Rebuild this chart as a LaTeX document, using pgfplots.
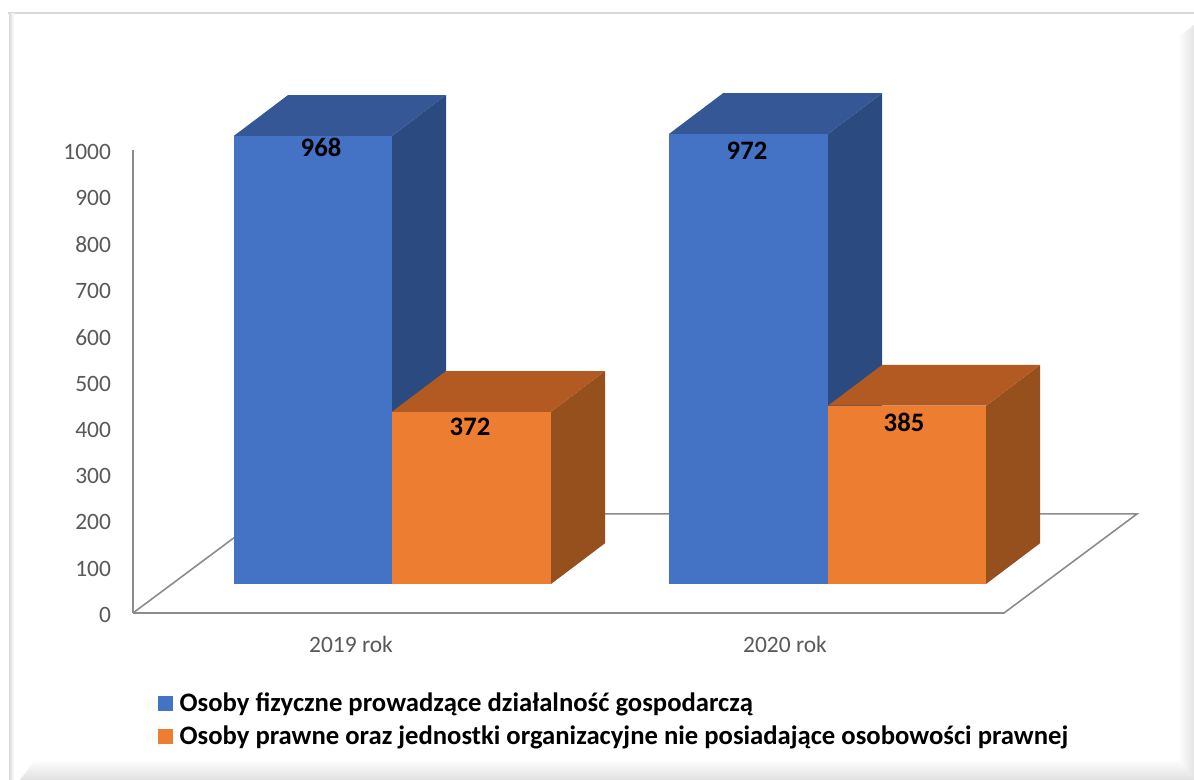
\documentclass[border=0pt]{standalone}
\usepackage{fontspec}
\setmainfont{Carlito}
\usepackage{pgfplots}
\pgfplotsset{compat=1.18}
\definecolor{blueF}{HTML}{4472C4}
\definecolor{blueS}{HTML}{2B4A80}
\definecolor{blueT}{HTML}{355795}
\definecolor{orF}{HTML}{ED7D31}
\definecolor{orS}{HTML}{95501D}
\definecolor{orT}{HTML}{B25A21}
\definecolor{txt}{HTML}{595959}
\definecolor{axl}{HTML}{8C8C8C}
\definecolor{fr}{HTML}{D9D9D9}
\begin{document}
\begin{tikzpicture}[x=.75pt,y=.75pt]
\fill[white] (0,0) rectangle (1194,780);
% frame
\fill[fr] (8,766) rectangle (1194,768);
\shade[left color=fr,right color=white] (9,0) rectangle (14,766);
\fill[white] (0,0) rectangle (9,766);
\shade[left color=white,right color=fr!70] (1178,0) -- (1194,0) -- (1194,755) -- (1178,743) -- cycle;
\shade[bottom color=fr!80,top color=white] (20,0) -- (1194,0) -- (1178,21) -- (36,21) -- cycle;
% axis, floor
\begin{axis}[at={(99.75pt,125.25pt)},anchor=south west,scale only axis,
  width=653.25pt,height=347.25pt,
  xmin=133,xmax=1004,ymin=0,ymax=1000,clip=false,
  axis line style={draw=axl,line width=1.5pt},
  axis x line*=bottom,axis y line*=left,
  axis line style={-},
  tick style={draw=none},
  xtick={351,785},xticklabels={2019 rok,2020 rok},
  ytick={0,100,...,1000},
  tick label style={font=\fontsize{17.6}{20}\selectfont,text=txt},
  yticklabel style={xshift=-13pt,yshift=-1.5pt},
  xticklabel style={yshift=-14pt},
  /pgf/number format/assume math mode=true,
  /pgf/number format/1000 sep={},
]
\addplot[draw=axl,line width=1.2pt] coordinates {(133,0)(1004,0)(1137,214)(266,214)(133,0)};
\end{axis}
% bars
\begin{axis}[at={(99.75pt,147pt)},anchor=south west,scale only axis,
  width=653.25pt,height=347.25pt,
  xmin=133,xmax=1004,ymin=0,ymax=1000,clip=false,
  axis lines=none,
  legend style={at={(axis cs:158,-229)},anchor=north west,draw=none,fill=none,
    font=\fontsize{20}{22}\bfseries\selectfont,
    row sep=5.5pt,inner sep=0pt,outer sep=0pt,
    cells={anchor=west},
    /tikz/every odd column/.append style={column sep=3pt},
    legend cell align=left},
  legend image code/.code={\fill[#1] (0,-5.6pt) rectangle (11.25pt,5.6pt);},
]
% 2019 blue
\addplot[forget plot,fill=blueS,draw=none] coordinates {(392,0)(446,88)(446,1056)(392,968)} -- cycle;
\addplot[forget plot,fill=blueT,draw=none] coordinates {(234,968)(392,968)(446,1056)(288,1056)} -- cycle;
\addplot[ybar,bar shift=0pt,bar width=118.5pt,fill=blueF,draw=none] coordinates {(313,968)};
% 2020 blue
\addplot[forget plot,fill=blueS,draw=none] coordinates {(828,0)(882,88)(882,1060)(828,972)} -- cycle;
\addplot[forget plot,fill=blueT,draw=none] coordinates {(669,972)(828,972)(882,1060)(723,1060)} -- cycle;
\addplot[forget plot,ybar,bar shift=0pt,bar width=119.25pt,fill=blueF,draw=none] coordinates {(748.5,972)};
% 2019 orange
\addplot[forget plot,fill=orS,draw=none] coordinates {(551,0)(605,88)(605,460)(551,372)} -- cycle;
\addplot[forget plot,fill=orT,draw=none] coordinates {(392,372)(551,372)(605,460)(446,460)} -- cycle;
\addplot[ybar,bar shift=0pt,bar width=119.25pt,fill=orF,draw=none] coordinates {(471.5,372)};
% 2020 orange
\addplot[forget plot,fill=orS,draw=none] coordinates {(986,0)(1040,88)(1040,473)(986,385)} -- cycle;
\addplot[forget plot,fill=orT,draw=none] coordinates {(828,385)(986,385)(1040,473)(882,473)} -- cycle;
\addplot[forget plot,ybar,bar shift=0pt,bar width=118.5pt,fill=orF,draw=none] coordinates {(907,385)};
% labels
\addplot[forget plot,draw=none,mark=none,point meta=explicit symbolic,nodes near coords,
  every node near coord/.append style={anchor=center,inner sep=0pt,text=black,
    font=\fontsize{20}{22}\bfseries\selectfont}]
  coordinates {(321,944)[968] (470,339)[372] (747,935)[972] (904,350)[385]};
\legend{Osoby fizyczne prowadzące działalność gospodarczą,Osoby prawne oraz jednostki organizacyjne nie posiadające osobowości prawnej}
\end{axis}
\end{tikzpicture}
\end{document}
